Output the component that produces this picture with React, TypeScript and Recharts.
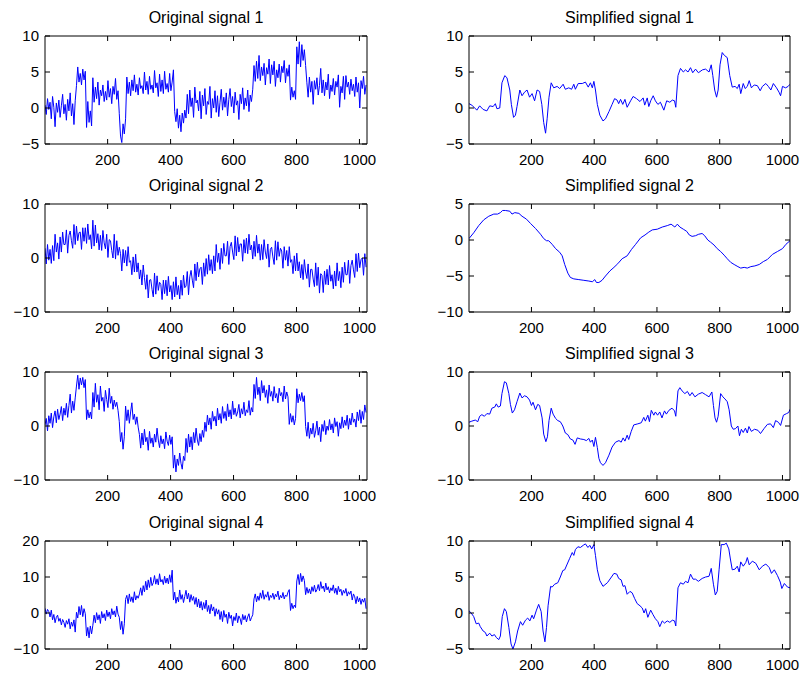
import { LineChart, Line, XAxis, YAxis } from 'recharts'

// sample spacing of the noisy (original) signals, in sample index units
const ORIG_STEP = 4
const X_TICKS = [200, 400, 600, 800, 1000]

const ORIGINAL_1 = [
  0.4, -0.9, 1.3, -0.2, 0.8, -1.5, 1.6, 0.1, -2.6, 0.7, -0.6, 1.1, -1.3, 0.3, 1.9, -0.8, 0.5, -1.7, 1.2, -0.4,
  2.1, -1.1, 0.6, -2.3, 1.0,
  3.1, 5.7, 3.6, 4.8, 3.2, 5.4, 3.9, 5.1,
  -2.7, 0.9, -2.0, -0.4, -2.5,
  4.2, 0.8, 2.9, 1.3, 3.6, 0.4, 2.5, 1.7, 3.2, 0.9, 2.3, 1.1, 3.8, 1.5, 2.7, 0.6, 3.0, 1.9, 4.1, 1.2, 2.4,
  -0.8, -3.9, -4.8, -2.2, -3.6, -1.5,
  4.3, 2.0, 3.6, 1.7, 3.9, 2.4, 4.6, 2.2, 3.3, 1.8, 4.2, 2.7, 3.1, 2.0, 5.0, 2.5, 3.7, 1.9, 4.4, 2.6,
  3.2, 2.1, 5.2, 2.8, 3.5, 1.6, 4.7, 2.3, 3.9, 2.0, 5.1, 2.6, 3.4, 2.2, 4.8, 2.4, 3.6, 5.3,
  -0.5, -1.9, -0.1, -2.8, -1.0, -3.3, -0.7, -2.1, -0.3, -1.4,
  1.9, -0.8, 2.5, 0.2, 1.4, -1.3, 2.9, 0.7, 1.1, -0.4, 2.3, -1.5, 1.8, 0.3, 2.7, -0.9, 0.9, 0.5, 3.0, -1.4,
  1.3, 0.0, 2.4, -0.6, 1.7, -1.2, 0.8, 2.6, -0.3, 1.5, 0.1, 2.1, -1.1, 1.2, 2.7, 0.2, 1.6, -0.7, 2.2, 0.4,
  1.0, -1.6, 1.9, 0.6, 2.8, -0.2, 1.4, 0.3, 2.5, -0.5, 1.8, 0.9, 2.6,
  5.9, 3.7, 6.5, 4.1, 7.3, 3.8, 5.7, 4.5, 6.2, 3.2, 5.6, 4.7, 6.8, 3.4, 6.0, 4.6, 6.5, 3.0, 5.3, 4.2,
  6.1, 3.6, 5.8, 4.9, 6.6, 3.5, 5.5, 4.4, 6.0,
  1.1, 2.9, 1.5, 2.4, 1.2,
  8.5, 6.1, 9.2, 5.7, 8.8, 6.6, 8.1, 5.9,
  3.5, 1.5, 4.3, 2.2, 3.7, 0.5, 3.8, 2.6, 4.2, 1.8, 3.1, 5.5, 2.1, 3.9, 1.7, 3.6, 2.5, 4.7, 1.3, 3.2,
  2.3, 4.1, 1.8, 3.7, 2.9, 4.6, 0.1, 3.0, 2.1, 4.4, 1.2, 4.5, 2.9, 3.6, 1.9, 4.0, 2.4, 3.3, 1.6, 4.3,
  2.2, 3.5, 0.0, 3.8, 2.7, 4.4, 1.9, 3.2,
]

const ORIGINAL_2 = [
  1.8, -1.1, 2.5, -0.4, 1.6, -1.0, 2.3, -0.5, 4.4, 1.1, 2.8, -0.2, 3.9, 1.1, 4.8, 2.5,
  2.5, 5.2, 0.9, 4.2, 5.0, 3.2, 1.8, 6.2, 2.5, 5.9, 3.2, 4.7, 4.8, 1.6, 5.6, 3.1,
  5.6, 2.7, 6.3, 3.4, 4.3, 1.7, 7.0, 2.2, 6.1, 2.8, 4.5, 1.5, 4.2, 1.4, 5.1, 2.8,
  1.7, 4.4, 0.1, 3.4, 3.2, 1.4, 0.0, 4.4, -0.2, 3.2, 0.5, 2.0, 0.8, -2.4, 1.6, -0.9,
  1.4, -1.5, 2.1, -0.8, -0.5, -3.1, 0.2, -2.6, 0.7, -2.6, -0.9, -3.9, -2.2, -5.0, -1.3, -3.6,
  -5.8, -3.1, -7.4, -4.1, -4.0, -5.8, -7.2, -2.8, -6.7, -3.3, -6.0, -4.5, -4.9, -7.7, -4.1, -6.6,
  -4.1, -7.0, -3.4, -6.3, -5.1, -7.7, -4.4, -7.2, -3.5, -6.8, -5.1, -7.6, -4.1, -6.9, -3.2, -5.5,
  -5.2, -2.5, -6.8, -3.5, -2.3, -4.1, -5.5, -1.1, -4.2, -0.8, -3.5, -2.0, -1.7, -4.9, -0.9, -3.4,
  -0.1, -3.0, 0.6, -2.3, -0.3, -2.9, 0.4, -2.4, 2.5, -0.8, 0.9, -2.1, 1.8, -1.0, 2.7, 0.4,
  0.4, 3.1, -1.2, 2.1, 2.9, 1.1, -0.3, 4.1, 0.4, 3.8, 1.1, 2.6, 2.6, -0.6, 3.4, 0.9,
  3.7, 0.8, 4.4, 1.5, 2.4, -0.2, 3.1, 0.3, 4.2, 0.9, 2.6, -0.4, 2.5, -0.3, 3.4, 1.1,
  -0.1, 2.6, -1.7, 1.6, 2.0, 0.2, -1.2, 3.2, -0.4, 3.0, 0.3, 1.8, 1.3, -1.9, 2.1, -0.4,
  1.4, -1.5, 2.1, -0.8, -0.3, -2.9, 0.4, -2.4, 0.9, -2.4, -0.7, -3.7, -1.2, -4.0, -0.3, -2.6,
  -3.8, -1.1, -5.4, -2.1, -2.1, -3.9, -5.3, -0.9, -5.1, -1.7, -6.5, -2.9, -3.2, -6.4, -2.4, -4.9,
  -2.1, -5.0, -1.4, -4.3, -3.1, -5.7, -2.4, -5.2, -0.9, -4.2, -2.5, -5.5, -1.7, -4.5, -0.8, -3.1,
  -3.1, -0.4, -4.7, -1.4, -0.4, -2.2, -3.6, 0.8, -2.5, 0.9, -1.8, -0.3, 0.0, -3.2, 0.8, -1.7,
]

const ORIGINAL_3 = [
  0.2, 1.4, -0.9, 1.9, 0.5, 2.4, -0.3, 1.7, 2.8, 0.6, 3.1, 1.2, 2.2, 3.6, 1.0, 3.3, 2.0, 4.2, 1.6, 3.8,
  5.9, 2.4, 4.6, 2.9, 5.2,
  7.4, 9.4, 6.8, 8.9, 7.6, 9.0, 7.1, 8.6,
  1.2, 3.0, 1.5, 2.6, 1.3,
  6.2, 3.5, 7.9, 4.4, 5.8, 3.0, 7.4, 4.6, 5.3, 2.7, 6.6, 4.9, 3.4, 7.0, 4.2, 5.5, 3.1, 4.8, 3.6, 4.4, 2.9,
  0.8, -2.9, -1.2, -4.3, -2.0,
  3.7, 1.0, 3.0, 0.5, 2.6, 4.3, 1.2, 2.2, 0.3, 1.7, -0.2,
  -1.6, -4.1, -1.3, -3.5, -0.6, -2.9, -2.1, -4.5, -1.0, -3.2, -2.2, -3.9, -1.5, -3.0, -0.4, -2.6, -4.0, -1.8,
  -3.3, -2.4, -4.2, -1.1, -2.8, -3.6, -1.7, -3.4, -2.0,
  -7.8, -5.4, -8.5, -6.1, -7.3, -5.0, -6.9, -8.0, -5.6, -6.4,
  -2.3, -4.9, -1.5, -3.9, -2.0, -4.4, -1.2, -3.1, -0.4, -2.6, -3.6, -1.4, -2.9, -0.8, -2.1,
  0.7, -1.0, 2.0, 0.2, 1.5, -0.6, 2.7, 0.9, 1.8, 0.0, 3.3, 1.1, 2.3, 0.5, 3.6, 1.4, 2.7, 1.0, 4.1, 1.7,
  3.0, 1.3, 4.6, 2.1, 3.3, 1.8, 2.6, 4.0, 1.5, 3.2, 2.2, 4.4, 1.9, 3.0, 2.5, 4.7, 2.0, 3.4, 2.6,
  7.7, 5.1, 9.0, 5.8, 7.2, 4.7, 8.4, 6.1, 7.5, 5.3, 6.7, 4.2, 7.6, 5.5, 6.4, 4.6, 7.3, 5.2, 6.0, 4.3,
  7.0, 5.6, 6.2, 4.5, 7.4, 5.0, 6.3, 5.4,
  0.3, 2.3, 0.7, 1.9, 0.2, 1.4,
  6.9, 4.3, 5.9, 4.7, 6.2, 4.5, 5.6,
  -0.1, -1.9, 0.7, -2.3, -0.4, -1.5, 0.5, -2.1, -0.9, 0.9, -1.7, -0.2, -2.9, 0.3, -1.0, 1.0, -1.6, 0.0,
  -0.8, 1.2, -0.7, 0.4, -1.3, 1.5, -0.1, 0.8, -1.9, 0.6, -0.5, 1.7, -0.3, 1.1, 0.1, 2.0, -0.6, 1.4,
  0.2, 2.4, 0.7, 1.3, -0.2, 2.6, 1.0, 3.0, 0.5, 2.7, 1.2, 3.9, 2.5,
]

const ORIGINAL_4 = [
  1.3, -0.3, 1.0, 0.4, -1.1, 0.8, -1.9, -0.4, -2.7, -1.2, -0.6, -2.3, -1.5, -3.3, -1.8, -2.6, -4.0, -2.1,
  -3.1, -1.6, -4.4, -2.5, -3.7, -1.9, -5.3,
  0.2, -1.4, 1.8, -0.5, 2.1, -1.0, 1.2, -0.2,
  -6.4, -4.0, -6.9, -3.6, -5.8,
  -3.4, -0.6, -2.7, 0.1, -1.9, -0.5, -2.9, 0.4, -1.4, -0.2, -2.1, 0.8, -1.0, 0.3, -1.6, 1.2, -0.5, 0.6,
  -1.1, 1.9, -0.3,
  -1.2, -4.6, -2.3, -5.9, -3.0,
  3.8, 4.9, 2.6, 5.3, 3.2, 4.5, 2.9, 5.9, 3.6, 4.8, 4.1,
  5.3, 7.0, 4.9, 7.6, 5.9, 8.8, 6.4, 9.2, 7.1, 9.9, 7.6, 8.4, 10.4, 8.0, 9.5, 7.8, 10.9, 8.6, 9.3, 7.9,
  10.2, 8.3, 9.7, 8.1, 10.6, 8.5, 11.9,
  3.6, 5.8, 2.7, 4.4, 3.1, 6.4, 3.8, 5.1, 2.9, 4.6,
  6.3, 3.9, 5.5, 3.0, 5.1, 3.5, 4.6, 2.4, 4.3, 1.7, 3.9, 1.4, 3.2, 0.8, 2.9, 1.2, 3.6, 0.4, 2.1, -0.2,
  2.4, 0.6, 1.7, -0.9, 1.2, -0.3, 0.9, -1.8, 0.4, -2.4, 0.7, -1.2, -0.3, -2.9, 0.2, -1.5, -0.6, -3.6,
  -1.0, -2.1, 0.0, -2.7, -0.8, -1.6, -3.2, -0.4, -1.9, -0.7, -2.5, -1.1, -0.2, -2.2, -1.3, -0.5,
  3.9, 5.3, 3.1, 4.7, 3.5, 5.6, 4.1, 6.3, 3.8, 5.1, 4.4, 5.9, 3.5, 4.9, 4.3, 5.5, 3.8, 5.2, 4.5, 6.1,
  3.7, 4.9, 4.2, 5.7, 3.9, 5.0, 4.6, 5.8, 6.5,
  0.7, 2.7, 1.2, 2.2, 1.5,
  8.9, 10.7, 7.9, 11.0, 8.7, 10.3, 9.0,
  5.1, 7.1, 5.5, 6.7, 5.3, 7.3, 6.0, 7.7, 5.8, 6.5, 7.9, 6.2, 8.7, 6.8, 7.5, 5.9, 8.3, 6.4, 7.3, 5.6,
  7.0, 6.2, 7.8, 5.5, 6.9, 5.1, 7.4, 5.9, 6.6, 4.9, 6.3, 5.5, 6.8, 4.7, 5.9, 5.2, 6.1, 3.6, 5.3, 4.5,
  2.6, 4.6, 3.1, 4.2, 2.4, 3.9, 3.0, 4.1, 1.2,
]

const SIMPLE_1_X = [
  1, 10, 26, 35, 46, 58, 67, 78, 85, 90, 99, 106, 115, 122, 131, 136, 143, 149, 154, 163,
  170, 178, 186, 194, 202, 210, 218, 226, 233, 239, 245, 250, 256, 263, 271, 282, 290, 301, 308, 319,
  328, 335, 340, 349, 362, 372, 381, 388, 394, 399, 404, 410, 418, 428, 436, 447, 457, 465, 473, 478,
  484, 491, 498, 505, 516, 524, 535, 546, 556, 561, 569, 574, 580, 588, 595, 603, 611, 622, 631, 641,
  649, 656, 660, 667, 675, 684, 691, 699, 707, 714, 723, 732, 745, 755, 766, 773, 778, 784, 790, 795,
  801, 808, 815, 824, 832, 840, 849, 856, 862, 867, 875, 881, 888, 894, 901, 910, 920, 929, 936, 947,
  955, 963, 971, 981, 989, 994, 1000, 1010, 1018, 1024,
]
const SIMPLE_1_Y = [
  0.6, 0.4, -0.3, 0.3, -0.2, -0.4, 0.3, 0.2, 0.6, -0.1, 0.0, 3.5, 4.5, 4.2, 2.5, 0.5, -1.3, -1.0, 0.2, 2.5,
  1.7, 2.2, 2.5, 1.5, 2.0, 1.0, 2.5, 2.3, 0.5, -2.0, -3.5, -1.5, 1.5, 3.5, 2.8, 3.0, 2.7, 3.3, 2.6, 2.8,
  2.6, 3.3, 2.6, 3.4, 3.4, 3.6, 2.9, 3.5, 2.8, 3.7, 2.5, 0.5, -1.0, -1.8, -1.5, -0.5, 0.5, 1.3, 1.1, 0.6,
  1.2, 0.5, 1.2, 0.1, 1.0, 1.6, 1.3, 0.9, 1.4, 0.4, 1.4, 0.2, 1.0, 1.7, 1.0, 0.5, 0.8, -0.3, 1.0, 0.8,
  1.1, 1.0, 0.1, 4.5, 5.5, 5.0, 5.3, 5.0, 5.6, 4.9, 5.4, 4.9, 5.3, 5.4, 5.0, 6.0, 4.5, 2.5, 1.5, 2.5,
  6.0, 7.7, 7.3, 7.0, 4.5, 2.9, 3.0, 2.7, 3.3, 2.0, 3.4, 2.7, 3.0, 3.8, 2.8, 3.2, 3.1, 2.4, 3.0, 3.4,
  3.0, 2.5, 3.4, 2.8, 2.2, 1.7, 3.0, 2.8, 3.0, 3.3,
]

const SIMPLE_2_X = [
  1, 16, 32, 48, 64, 80, 92, 101, 108, 117, 131, 138, 147, 160, 170, 184, 197, 213, 229, 239,
  248, 255, 266, 277, 290, 298, 306, 316, 324, 335, 351, 367, 383, 394, 402, 407, 415, 425, 436, 450,
  463, 475, 489, 505, 519, 532, 548, 562, 574, 585, 601, 617, 633, 645, 657, 665, 673, 684, 695, 703,
  712, 723, 733, 744, 752, 762, 771, 782, 792, 803, 814, 824, 835, 846, 858, 867, 878, 888, 899, 912,
  926, 939, 952, 968, 984, 1000, 1011, 1024,
]
const SIMPLE_2_Y = [
  0.2, 1.0, 2.0, 2.8, 3.3, 3.6, 3.6, 3.8, 4.1, 4.1, 4.0, 3.6, 3.8, 3.7, 3.3, 2.9, 2.3, 1.6, 0.8, 0.2,
  -0.1, -0.1, -0.6, -1.2, -1.7, -2.2, -3.4, -4.6, -5.2, -5.4, -5.5, -5.6, -5.7, -5.8, -5.5, -5.9, -5.9, -5.6, -5.0, -4.3,
  -3.8, -3.3, -2.6, -2.2, -1.3, -0.6, 0.3, 0.7, 1.1, 1.4, 1.5, 1.8, 2.0, 2.2, 1.8, 2.2, 1.8, 1.5, 1.2, 0.7,
  0.5, 0.6, 0.8, 0.9, 0.6, 0.0, -0.3, -0.7, -1.2, -1.6, -2.1, -2.6, -3.1, -3.4, -3.7, -3.9, -3.8, -3.9, -3.7, -3.6,
  -3.4, -3.0, -2.7, -2.0, -1.6, -1.2, -0.6, -0.1,
]

const SIMPLE_3_X = [
  1, 10, 21, 29, 35, 42, 50, 58, 67, 74, 83, 88, 94, 101, 106, 114, 120, 128, 133, 139,
  146, 154, 163, 170, 178, 186, 194, 200, 205, 213, 220, 226, 234, 239, 246, 251, 256, 263, 269, 277,
  284, 292, 300, 308, 316, 324, 332, 339, 346, 356, 367, 375, 383, 388, 394, 399, 404, 410, 415, 420,
  428, 436, 447, 457, 468, 479, 486, 492, 498, 505, 510, 518, 526, 539, 550, 558, 563, 571, 576, 582,
  590, 595, 602, 609, 616, 624, 630, 638, 648, 656, 660, 667, 673, 680, 689, 697, 705, 712, 721, 732,
  744, 755, 766, 775, 780, 785, 790, 795, 803, 810, 817, 824, 830, 837, 843, 850, 858, 863, 869, 875,
  882, 888, 893, 901, 911, 922, 930, 941, 952, 962, 971, 978, 987, 994, 1003, 1013, 1020, 1024,
]
const SIMPLE_3_Y = [
  0.7, 0.9, 1.1, 0.8, 1.8, 2.1, 1.8, 2.3, 2.2, 3.3, 3.5, 4.1, 3.5, 3.7, 6.0, 8.2, 8.0, 6.0, 4.0, 2.4,
  3.0, 4.5, 6.1, 5.2, 5.6, 5.4, 4.8, 3.8, 4.4, 3.0, 4.0, 3.8, 1.5, -1.5, -2.9, -2.0, 1.0, 3.3, 2.2, 1.4,
  1.0, 0.8, 0.0, -1.3, -1.6, -2.4, -2.6, -3.4, -2.2, -2.4, -2.5, -2.7, -2.3, -3.0, -2.6, -3.8, -2.1, -4.0, -6.0, -6.8,
  -7.3, -6.8, -5.4, -3.9, -3.0, -2.7, -3.0, -2.2, -2.8, -1.7, -2.5, -1.0, 0.2, 0.4, 0.6, 1.6, 0.9, 2.0, 0.8, 2.9,
  2.0, 2.6, 2.0, 2.6, 1.5, 2.8, 2.2, 2.9, 3.3, 2.8, 1.8, 6.5, 7.1, 6.5, 6.0, 6.4, 5.6, 6.2, 5.4, 5.9,
  6.2, 5.8, 5.4, 6.3, 3.8, 1.5, 0.7, 1.8, 6.0, 5.4, 5.0, 4.5, 3.0, 0.0, -0.6, -0.5, 0.0, -1.8, -0.6, -1.2,
  -0.4, -1.3, -0.1, -1.0, -0.6, -0.8, -1.4, -0.5, 0.3, 0.4, -0.3, 1.0, 0.7, 0.1, 2.0, 2.3, 2.5, 3.1,
]

const SIMPLE_4_X = [
  1, 8, 16, 24, 32, 37, 46, 53, 58, 67, 74, 82, 88, 96, 101, 107, 114, 120, 128, 135,
  141, 149, 156, 165, 172, 181, 188, 195, 202, 207, 216, 223, 231, 237, 243, 248, 253, 261, 266, 274,
  284, 292, 300, 306, 314, 322, 330, 335, 340, 348, 356, 365, 372, 380, 386, 392, 399, 404, 410, 418,
  428, 442, 455, 463, 472, 478, 486, 492, 498, 505, 514, 521, 529, 537, 546, 553, 559, 564, 571, 580,
  587, 595, 603, 609, 617, 624, 633, 641, 649, 656, 660, 667, 675, 684, 691, 699, 707, 715, 723, 732,
  744, 755, 766, 773, 780, 786, 792, 798, 805, 814, 821, 829, 834, 840, 849, 856, 862, 867, 875, 883,
  888, 894, 904, 915, 926, 936, 947, 958, 965, 974, 984, 993, 998, 1006, 1016, 1024,
]
const SIMPLE_4_Y = [
  0.3, 0.0, -0.5, -1.5, -1.4, -1.9, -2.5, -2.7, -3.2, -2.8, -3.2, -3.0, -3.4, -3.7, -3.2, -0.5, 0.6, 0.2, -2.0, -4.3,
  -5.0, -4.0, -2.5, -1.2, -1.7, -1.0, -0.7, -1.1, -0.3, -0.8, 0.4, 1.2, 0.2, -2.5, -4.0, -2.0, 1.0, 3.7, 3.6, 4.0,
  4.2, 5.0, 5.9, 6.0, 6.8, 7.6, 8.4, 8.0, 8.8, 9.2, 9.1, 9.4, 9.6, 9.1, 9.4, 8.9, 9.5, 8.0, 6.0, 4.5,
  3.7, 4.2, 5.0, 5.5, 5.4, 4.8, 4.6, 3.7, 3.8, 2.6, 3.0, 2.8, 2.0, 1.3, 1.0, 0.7, 0.0, 0.6, -0.6, 0.4,
  -0.2, -0.8, -1.2, -1.9, -1.1, -1.4, -1.1, -1.3, -1.0, -1.1, -1.8, 3.5, 4.2, 4.0, 4.4, 4.2, 5.4, 4.7, 4.7, 4.4,
  4.8, 5.0, 5.1, 6.2, 4.0, 2.5, 3.0, 6.0, 9.5, 9.5, 9.7, 8.9, 7.5, 6.0, 6.1, 6.5, 5.7, 7.1, 6.5, 7.0,
  7.7, 6.7, 7.2, 6.9, 6.0, 6.5, 6.8, 6.3, 5.5, 6.0, 5.2, 4.3, 3.4, 4.1, 3.6, 3.5,
]

const FONT = '"Liberation Sans", Arial, Helvetica, sans-serif'
const BLUE = '#0000ff'
const AXIS_W = 45
const TOP_H = 10
const RIGHT_W = 12
const BOTTOM_H = 30
const PLOT_H = 108

const COLS = [
  { x: 45, w: 322 },
  { x: 469, w: 321 },
]
const ROW_TOPS = [36, 204, 372, 541]

type Pt = { x: number; y: number }

function sampled(values: number[]): Pt[] {
  return values.map((y, i) => ({ x: 1 + i * ORIG_STEP, y }))
}

function paired(xs: number[], ys: number[]): Pt[] {
  const n = Math.min(xs.length, ys.length)
  return xs.slice(0, n).map((x, i) => ({ x, y: ys[i] }))
}

const minus = (v: number) => String(v).replace('-', '\u2212')
const blank = () => ''

const tickStyle = { fill: '#000', fontSize: 15, fontFamily: FONT }
const lineStyle = { stroke: '#000' }

interface PanelProps {
  title: string
  data: Pt[]
  yDomain: [number, number]
  yTicks: number[]
  col: number
  row: number
}

function Panel({ title, data, yDomain, yTicks, col, row }: PanelProps) {
  const { x, w } = COLS[col]
  const top = ROW_TOPS[row]
  return (
    <>
      <div
        style={{
          position: 'absolute',
          left: x,
          top: top - 26,
          width: w,
          textAlign: 'center',
          fontSize: 16,
          lineHeight: '16px',
          fontFamily: FONT,
          color: '#000',
          whiteSpace: 'nowrap',
        }}
      >
        {title}
      </div>
      <div style={{ position: 'absolute', left: x - AXIS_W, top: top - TOP_H }}>
        <LineChart
          width={AXIS_W + w + RIGHT_W}
          height={TOP_H + PLOT_H + BOTTOM_H}
          data={data}
          margin={{ top: 0, right: 0, bottom: 0, left: 0 }}
        >
          <XAxis
            xAxisId="b"
            dataKey="x"
            type="number"
            domain={[1, 1024]}
            ticks={X_TICKS}
            interval={0}
            allowDataOverflow
            height={BOTTOM_H}
            tickSize={-5}
            tickMargin={15}
            axisLine={lineStyle}
            tickLine={lineStyle}
            tick={tickStyle}
          />
          <XAxis
            xAxisId="t"
            dataKey="x"
            type="number"
            orientation="top"
            domain={[1, 1024]}
            ticks={X_TICKS}
            interval={0}
            allowDataOverflow
            height={TOP_H}
            tickSize={-5}
            tickFormatter={blank}
            axisLine={lineStyle}
            tickLine={lineStyle}
            tick={tickStyle}
          />
          <YAxis
            yAxisId="l"
            type="number"
            domain={yDomain}
            ticks={yTicks}
            interval={0}
            allowDataOverflow
            width={AXIS_W}
            tickSize={-5}
            tickMargin={11}
            tickFormatter={minus}
            axisLine={lineStyle}
            tickLine={lineStyle}
            tick={tickStyle}
          />
          <YAxis
            yAxisId="r"
            orientation="right"
            type="number"
            domain={yDomain}
            ticks={yTicks}
            interval={0}
            allowDataOverflow
            width={RIGHT_W}
            tickSize={-5}
            tickFormatter={blank}
            axisLine={lineStyle}
            tickLine={lineStyle}
            tick={tickStyle}
          />
          <Line
            xAxisId="b"
            yAxisId="l"
            dataKey="y"
            type="linear"
            stroke={BLUE}
            strokeWidth={1}
            dot={false}
            activeDot={false}
            isAnimationActive={false}
          />
        </LineChart>
      </div>
    </>
  )
}

export default function App() {
  return (
    <div
      style={{
        position: 'absolute',
        left: 0,
        top: 0,
        width: 807,
        height: 673,
        background: '#fff',
        overflow: 'hidden',
      }}
    >
      <Panel title="Original signal 1" data={sampled(ORIGINAL_1)} yDomain={[-5, 10]} yTicks={[-5, 0, 5, 10]} col={0} row={0} />
      <Panel title="Simplified signal 1" data={paired(SIMPLE_1_X, SIMPLE_1_Y)} yDomain={[-5, 10]} yTicks={[-5, 0, 5, 10]} col={1} row={0} />
      <Panel title="Original signal 2" data={sampled(ORIGINAL_2)} yDomain={[-10, 10]} yTicks={[-10, 0, 10]} col={0} row={1} />
      <Panel title="Simplified signal 2" data={paired(SIMPLE_2_X, SIMPLE_2_Y)} yDomain={[-10, 5]} yTicks={[-10, -5, 0, 5]} col={1} row={1} />
      <Panel title="Original signal 3" data={sampled(ORIGINAL_3)} yDomain={[-10, 10]} yTicks={[-10, 0, 10]} col={0} row={2} />
      <Panel title="Simplified signal 3" data={paired(SIMPLE_3_X, SIMPLE_3_Y)} yDomain={[-10, 10]} yTicks={[-10, 0, 10]} col={1} row={2} />
      <Panel title="Original signal 4" data={sampled(ORIGINAL_4)} yDomain={[-10, 20]} yTicks={[-10, 0, 10, 20]} col={0} row={3} />
      <Panel title="Simplified signal 4" data={paired(SIMPLE_4_X, SIMPLE_4_Y)} yDomain={[-5, 10]} yTicks={[-5, 0, 5, 10]} col={1} row={3} />
    </div>
  )
}
